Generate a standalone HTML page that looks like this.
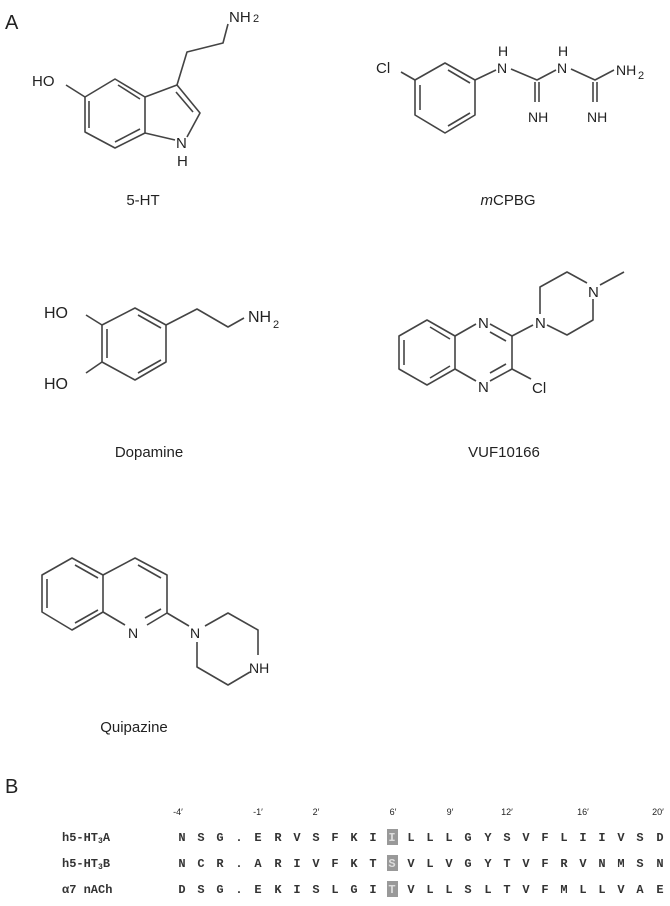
<!DOCTYPE html>
<html><head><meta charset="utf-8"><style>
html,body{margin:0;padding:0;background:#fff;}
svg{display:block;}
.t{font-family:"Liberation Sans",sans-serif;fill:#222;}
.m{font-family:"Liberation Mono",monospace;font-weight:bold;fill:#333;font-size:12px;}
</style></head><body>
<svg width="670" height="906" viewBox="0 0 670 906" xmlns="http://www.w3.org/2000/svg">
<g fill="none" stroke="#444" stroke-width="1.6" stroke-linejoin="round">
<!-- 5-HT -->
<polygon points="115,79 145,97 145,133 115,148 85,132 85,97"/>
<line x1="89" y1="128" x2="89" y2="101"/>
<line x1="115" y1="142" x2="140" y2="129"/>
<line x1="118" y1="85" x2="140" y2="99"/>
<line x1="85" y1="97" x2="66" y2="85"/>
<polyline points="145,97 177,85 200,113 187,137"/>
<line x1="176" y1="92" x2="193" y2="112"/>
<line x1="145" y1="133" x2="175" y2="140"/>
<polyline points="177,85 187,52 223,43 228,24"/>
<!-- mCPBG -->
<polygon points="445,63 475,80 475,115 445,133 415,115 415,80"/>
<line x1="420" y1="85" x2="420" y2="110"/>
<line x1="448" y1="70" x2="470" y2="83"/>
<line x1="448" y1="126" x2="470" y2="113"/>
<line x1="415" y1="80" x2="401" y2="72"/>
<line x1="475" y1="80" x2="496" y2="70"/>
<polyline points="511,69 537,80 556,70"/>
<polyline points="571,69 595,80 614,70"/>
<line x1="535" y1="82" x2="535" y2="102"/><line x1="539" y1="82" x2="539" y2="102"/>
<line x1="593" y1="82" x2="593" y2="102"/><line x1="597" y1="82" x2="597" y2="102"/>
<!-- Dopamine -->
<polygon points="135,308 166,325 166,362 135,380 102,362 102,325"/>
<line x1="107" y1="329" x2="107" y2="358"/>
<line x1="138" y1="315" x2="161" y2="328"/>
<line x1="138" y1="373" x2="161" y2="360"/>
<line x1="102" y1="325" x2="86" y2="315"/>
<line x1="102" y1="362" x2="86" y2="373"/>
<polyline points="166,325 197,309 228,327 244,318"/>
<!-- VUF10166 -->
<polygon points="427,320 455,336 455,369 427,385 399,369 399,336"/>
<line x1="404" y1="340" x2="404" y2="365"/>
<line x1="430" y1="327" x2="450" y2="339"/>
<line x1="430" y1="378" x2="450" y2="366"/>
<line x1="455" y1="336" x2="476" y2="324"/>
<line x1="455" y1="369" x2="476" y2="381"/>
<line x1="490" y1="324" x2="512" y2="336"/>
<line x1="490" y1="332" x2="506" y2="341"/>
<line x1="512" y1="336" x2="512" y2="369"/>
<line x1="512" y1="369" x2="490" y2="381"/>
<line x1="506" y1="364" x2="490" y2="373"/>
<line x1="512" y1="369" x2="531" y2="379"/>
<line x1="512" y1="336" x2="533" y2="325"/>
<polyline points="540,314 540,287 567,272 587,283"/>
<line x1="600" y1="285" x2="624" y2="272"/>
<polyline points="593,299 593,320 567,335 547,325"/>
<!-- Quipazine -->
<polygon points="72,558 103,575 103,612 72,630 42,612 42,575"/>
<line x1="47" y1="579" x2="47" y2="608"/>
<line x1="75" y1="565" x2="98" y2="578"/>
<line x1="75" y1="623" x2="98" y2="610"/>
<polyline points="103,575 135,558 167,575 167,613 147,625"/>
<polyline points="103,612 125,625"/>
<line x1="138" y1="565" x2="161" y2="578"/>
<line x1="145" y1="618" x2="161" y2="609"/>
<line x1="167" y1="613" x2="189" y2="626"/>
<polyline points="205,626 228,613 258,630 258,655"/>
<polyline points="250,672 228,685 197,667 197,642"/>
</g>
<g class="t">
<text x="5" y="29" font-size="20">A</text>
<text x="229" y="22" font-size="15">NH</text><text x="253" y="22" font-size="11">2</text>
<text x="32" y="86" font-size="15">HO</text>
<text x="176" y="148" font-size="15">N</text><text x="177" y="166" font-size="15">H</text>
<text x="143" y="205" font-size="15" text-anchor="middle">5-HT</text>
<text x="376" y="73" font-size="15">Cl</text>
<text x="497" y="73" font-size="14">N</text><text x="498" y="56" font-size="14">H</text>
<text x="557" y="73" font-size="14">N</text><text x="558" y="56" font-size="14">H</text>
<text x="616" y="75" font-size="14">NH</text><text x="638" y="79" font-size="11">2</text>
<text x="528" y="122" font-size="14">NH</text>
<text x="587" y="122" font-size="14">NH</text>
<text x="508" y="205" font-size="15" text-anchor="middle"><tspan font-style="italic">m</tspan>CPBG</text>
<text x="44" y="318" font-size="16">HO</text>
<text x="44" y="389" font-size="16">HO</text>
<text x="248" y="322" font-size="16">NH</text><text x="273" y="328" font-size="11">2</text>
<text x="149" y="457" font-size="15" text-anchor="middle">Dopamine</text>
<text x="478" y="328" font-size="15">N</text>
<text x="478" y="392" font-size="15">N</text>
<text x="532" y="393" font-size="15">Cl</text>
<text x="535" y="328" font-size="15">N</text>
<text x="588" y="297" font-size="15">N</text>
<text x="504" y="457" font-size="15" text-anchor="middle">VUF10166</text>
<text x="128" y="638" font-size="14">N</text>
<text x="190" y="638" font-size="14">N</text>
<text x="249" y="673" font-size="14">NH</text>
<text x="134" y="732" font-size="15" text-anchor="middle">Quipazine</text>
<text x="5" y="793" font-size="20">B</text>
</g>
<g class="t" font-size="9" text-anchor="middle" fill="#444">
<text x="178" y="815">-4′</text><text x="258" y="815">-1′</text><text x="316" y="815">2′</text>
<text x="393" y="815">6′</text><text x="450" y="815">9′</text><text x="507" y="815">12′</text>
<text x="583" y="815">16′</text><text x="658" y="815">20′</text>
</g>
<rect x="387" y="829" width="11" height="16" fill="#999"/>
<rect x="387" y="855" width="11" height="16" fill="#999"/>
<rect x="387" y="881" width="11" height="16" fill="#999"/>
<g class="m">
<text x="62" y="841">h5-HT<tspan font-size="8" dy="2">3</tspan><tspan dy="-2">A</tspan></text>
<text x="62" y="867">h5-HT<tspan font-size="8" dy="2">3</tspan><tspan dy="-2">B</tspan></text>
<text x="62" y="893">α7 nACh</text>
</g>
<g class="m" text-anchor="middle">
<text y="841"><tspan x="182">N</tspan><tspan x="201">S</tspan><tspan x="220">G</tspan><tspan x="239">.</tspan><tspan x="258">E</tspan><tspan x="278">R</tspan><tspan x="297">V</tspan><tspan x="316">S</tspan><tspan x="335">F</tspan><tspan x="354">K</tspan><tspan x="373">I</tspan><tspan x="392" fill="#ddd">I</tspan><tspan x="411">L</tspan><tspan x="430">L</tspan><tspan x="449">L</tspan><tspan x="468">G</tspan><tspan x="488">Y</tspan><tspan x="507">S</tspan><tspan x="526">V</tspan><tspan x="545">F</tspan><tspan x="564">L</tspan><tspan x="583">I</tspan><tspan x="602">I</tspan><tspan x="621">V</tspan><tspan x="640">S</tspan><tspan x="660">D</tspan></text>
<text y="867"><tspan x="182">N</tspan><tspan x="201">C</tspan><tspan x="220">R</tspan><tspan x="239">.</tspan><tspan x="258">A</tspan><tspan x="278">R</tspan><tspan x="297">I</tspan><tspan x="316">V</tspan><tspan x="335">F</tspan><tspan x="354">K</tspan><tspan x="373">T</tspan><tspan x="392" fill="#ddd">S</tspan><tspan x="411">V</tspan><tspan x="430">L</tspan><tspan x="449">V</tspan><tspan x="468">G</tspan><tspan x="488">Y</tspan><tspan x="507">T</tspan><tspan x="526">V</tspan><tspan x="545">F</tspan><tspan x="564">R</tspan><tspan x="583">V</tspan><tspan x="602">N</tspan><tspan x="621">M</tspan><tspan x="640">S</tspan><tspan x="660">N</tspan></text>
<text y="893"><tspan x="182">D</tspan><tspan x="201">S</tspan><tspan x="220">G</tspan><tspan x="239">.</tspan><tspan x="258">E</tspan><tspan x="278">K</tspan><tspan x="297">I</tspan><tspan x="316">S</tspan><tspan x="335">L</tspan><tspan x="354">G</tspan><tspan x="373">I</tspan><tspan x="392" fill="#ddd">T</tspan><tspan x="411">V</tspan><tspan x="430">L</tspan><tspan x="449">L</tspan><tspan x="468">S</tspan><tspan x="488">L</tspan><tspan x="507">T</tspan><tspan x="526">V</tspan><tspan x="545">F</tspan><tspan x="564">M</tspan><tspan x="583">L</tspan><tspan x="602">L</tspan><tspan x="621">V</tspan><tspan x="640">A</tspan><tspan x="660">E</tspan></text>
</g>
</svg>
</body></html>
